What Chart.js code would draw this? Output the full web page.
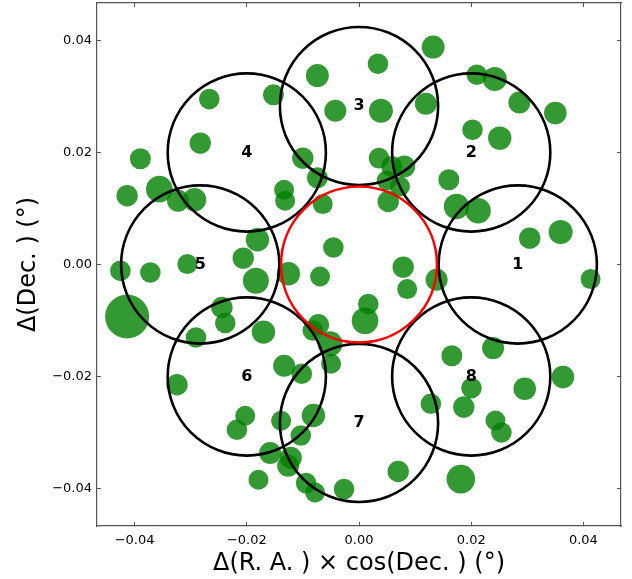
<!DOCTYPE html>
<html>
<head>
<meta charset="utf-8">
<script src="https://cdn.jsdelivr.net/npm/chart.js@4.4.1/dist/chart.umd.min.js"></script>
<style>
  html, body { margin: 0; padding: 0; background: #fff; }
  #wrap { width: 632px; height: 579px; }
</style>
</head>
<body>
<div id="wrap"><canvas id="chart" width="632" height="579"></canvas></div>
<script>
// stars: offsets in degrees, marker radius in px
const STAR_X = [
  0.01322, 0.00338, -0.00742, 0.02100, 0.02420, -0.01525, -0.02669, 0.01192, 0.02859, -0.00422,
  0.00391, 0.03500, 0.02023, 0.02509, -0.02829, -0.03897, -0.01002, 0.00356, 0.00582, 0.00806,
  -0.00742, 0.00493, 0.00730, 0.01601, -0.04133, -0.03559, -0.03226, -0.02931, -0.01335, -0.01317,
  -0.00646, 0.00521, 0.01738, 0.02123, 0.03594, 0.03043, -0.01810, -0.02064, -0.00457, -0.03060,
  -0.04253, -0.03719, -0.01838, -0.01258, -0.00694, 0.00788, 0.00859, 0.01383, 0.04128, -0.04133,
  -0.02443, -0.02384, 0.00165, 0.00107, -0.00724, -0.00824, -0.01703, -0.02906, -0.00516, 0.01655,
  0.02390, 0.03635, -0.03244, -0.01335, -0.01020, -0.00498, 0.02005, 0.02954, 0.01868, 0.01281,
  -0.00813, -0.02028, -0.02176, -0.01388, 0.02432, 0.02539, -0.01037, -0.01584, -0.01215, -0.01263,
  -0.01792, -0.00943, -0.00783, -0.00267, 0.00699, 0.01815
];
const STAR_Y = [
  0.03882, 0.03584, 0.03375, 0.03388, 0.03311, 0.03030, 0.02954, 0.02870, 0.02893, 0.02745,
  0.02745, 0.02704, 0.02405, 0.02257, 0.02168, 0.01888, 0.01900, 0.01900, 0.01750, 0.01750,
  0.01548, 0.01500, 0.01393, 0.01513, 0.01227, 0.01346, 0.01138, 0.01155, 0.01334, 0.01138,
  0.01079, 0.01125, 0.01036, 0.00959, 0.00579, 0.00471, 0.00441, 0.00114, 0.00304, 0.00007,
  -0.00113, -0.00143, -0.00291, -0.00166, -0.00214, -0.00046, -0.00439, -0.00273, -0.00261, -0.00929,
  -0.00768, -0.01046, -0.00707, -0.01005, -0.01077, -0.01179, -0.01207, -0.01304, -0.01416, -0.01630,
  -0.01493, -0.02011, -0.02148, -0.01809, -0.01952, -0.01773, -0.02207, -0.02220, -0.02546, -0.02488,
  -0.02696, -0.02702, -0.02952, -0.02791, -0.02786, -0.03000, -0.03054, -0.03368, -0.03452, -0.03595,
  -0.03845, -0.03904, -0.04071, -0.04011, -0.03696, -0.03832
];
const STAR_SIZE = [
  11.5, 10.3, 11.5, 10.3, 12, 10.5, 10.3, 11, 11, 11,
  12, 11.3, 10.3, 11.7, 10.7, 10.5, 10.7, 10.3, 10.5, 11,
  10.5, 10, 10, 10.5, 10.7, 13.3, 11, 11.7, 10, 10,
  10, 10.7, 12.7, 12.7, 12, 10.7, 11.7, 10.7, 10.3, 10,
  10.3, 10.3, 13, 11.7, 10, 10.7, 10, 11, 10, 22,
  10.7, 10.3, 10.3, 13.3, 10.7, 10.3, 11.7, 10.3, 12.5, 10.5,
  11, 11.3, 10.7, 11, 10.3, 10, 10.3, 11.3, 10.7, 10.3,
  11.7, 10, 10.3, 10, 10, 10.3, 10.3, 11, 11, 11,
  10, 10.3, 10, 10.3, 10.7, 14.3
];

// pointings
const FIELD_NAMES = ["1", "2", "3", "4", "5", "6", "7", "8"];
const FIELD_X = [0.0283, 0.0200, 0.0000, -0.0200, -0.0283, -0.0200, 0.0000, 0.0200];
const FIELD_Y = [0.0000, 0.0200, 0.0283, 0.0200, 0.0000, -0.0200, -0.0283, -0.0200];
const FIELD_RADIUS = 0.0141;
const CENTER_X = [0];
const CENTER_Y = [0];
const CENTER_RADIUS = 0.0139;

const AXIS_MIN = -0.0467;
const AXIS_MAX = 0.0467;
const TICKS = [-0.04, -0.02, 0.00, 0.02, 0.04];

const FONT = "'DejaVu Sans', sans-serif";
const FRAME = "#555";

const pts = (xs, ys) => xs.map((x, i) => ({ x, y: ys[i] }));
const radiusPx = (r) => (ctx) => {
  const s = ctx.chart.scales.x;
  return s.getPixelForValue(r) - s.getPixelForValue(0);
};
const fmt = v => (v < 0 ? "\u2212" : "") + Math.abs(v).toFixed(2);
const setTicks = s => { s.ticks = TICKS.map(v => ({ value: v })); };

// fixed box sizes, no label overhang padding
const fixBox = (w, h) => s => {
  if (w !== null) s.width = w;
  if (h !== null) s.height = h;
  s.paddingTop = s.paddingBottom = s.paddingLeft = s.paddingRight = 0;
};

function axis(position, opts) {
  return Object.assign({
    type: "linear",
    position,
    min: AXIS_MIN,
    max: AXIS_MAX,
    afterBuildTicks: setTicks,
    border: { display: true, color: FRAME, width: 1.2 },
    grid: { drawOnChartArea: false, drawTicks: true, tickLength: -4, color: FRAME, tickWidth: 1 },
  }, opts);
}

const fieldLabels = {
  id: "fieldLabels",
  afterDatasetsDraw(chart) {
    const { ctx, scales: { x, y } } = chart;
    ctx.save();
    ctx.font = "bold 16px " + FONT;
    ctx.fillStyle = "#000";
    ctx.textAlign = "center";
    ctx.textBaseline = "middle";
    FIELD_NAMES.forEach((n, i) => {
      ctx.fillText(n, x.getPixelForValue(FIELD_X[i]), y.getPixelForValue(FIELD_Y[i]));
    });
    ctx.restore();
  }
};

new Chart(document.getElementById("chart"), {
  type: "scatter",
  data: {
    datasets: [
      {
        data: pts(STAR_X, STAR_Y),
        order: 3,
        backgroundColor: "rgba(0,128,0,0.8)",
        borderWidth: 0,
        pointRadius: ctx => STAR_SIZE[ctx.dataIndex],
      },
      {
        data: pts(FIELD_X, FIELD_Y),
        order: 2,
        backgroundColor: "rgba(0,0,0,0)",
        borderColor: "#000",
        borderWidth: 2.6,
        pointRadius: radiusPx(FIELD_RADIUS),
      },
      {
        data: pts(CENTER_X, CENTER_Y),
        order: 1,
        backgroundColor: "rgba(0,0,0,0)",
        borderColor: "#f00",
        borderWidth: 2.6,
        pointRadius: radiusPx(CENTER_RADIUS),
      },
    ],
  },
  options: {
    responsive: false,
    animation: false,
    events: [],
    clip: false,
    layout: { padding: 0, autoPadding: false },
    plugins: { legend: { display: false }, tooltip: { enabled: false } },
    scales: {
      x: axis("bottom", {
        afterFit: fixBox(null, 53),
        ticks: { color: "#000", font: { family: FONT, size: 13 }, padding: 11, callback: fmt, maxRotation: 0 },
        title: { display: true, text: "\u0394(R. A. ) \u00d7 cos(Dec. ) (\u00b0)", color: "#000",
                 font: { family: FONT, size: 24 }, padding: { top: 0, bottom: 1 } },
      }),
      y: axis("left", {
        afterFit: fixBox(97, null),
        ticks: { color: "#000", font: { family: FONT, size: 13 }, padding: 9, callback: fmt },
        title: { display: true, text: "\u0394(Dec. ) (\u00b0)", color: "#000",
                 font: { family: FONT, size: 24 }, padding: { top: 14, bottom: 0 } },
      }),
      x2: axis("top", {
        afterFit: fixBox(null, 3),
        ticks: { display: false },
      }),
      y2: axis("right", {
        afterFit: fixBox(11, null),
        ticks: { display: false },
      }),
    },
  },
  plugins: [fieldLabels],
});
</script>
</body>
</html>
